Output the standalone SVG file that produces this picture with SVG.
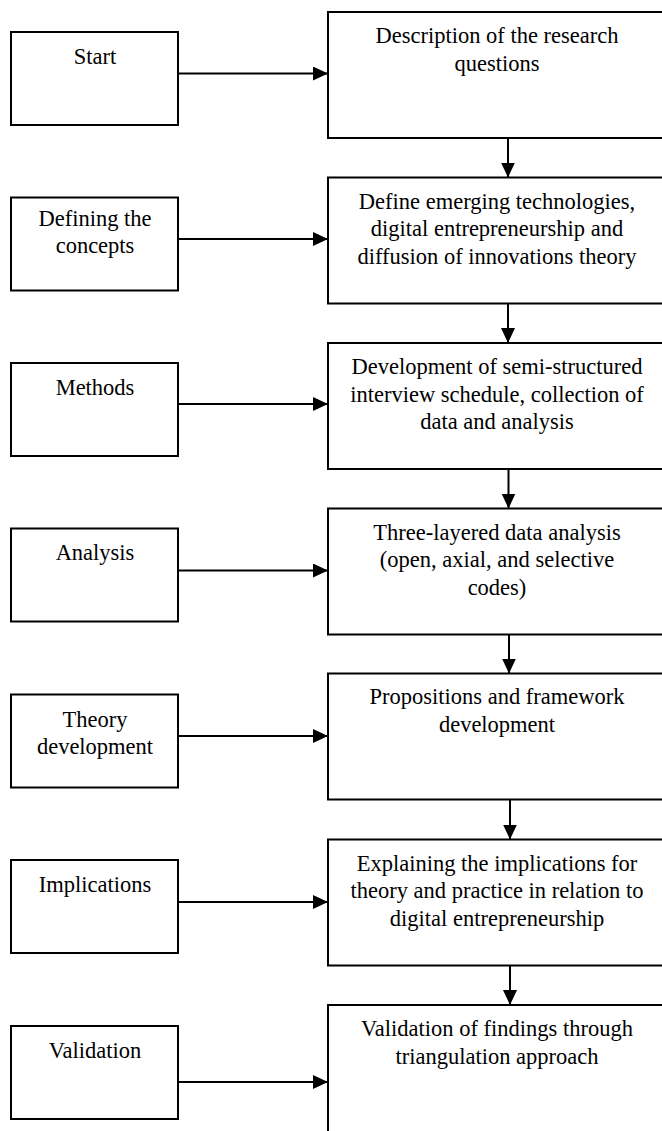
<svg xmlns="http://www.w3.org/2000/svg" width="662" height="1131" viewBox="0 0 662 1131">
<style>
.box{fill:#fff;stroke:#000;stroke-width:2}
.t{font-family:"Liberation Serif","Times New Roman",serif;font-size:22.5px;fill:#000;text-anchor:middle}
.c{stroke:#000;stroke-width:2;fill:none;marker-end:url(#ah)}
</style>
<defs>
<marker id="ah" markerUnits="userSpaceOnUse" markerWidth="15" markerHeight="14" refX="15" refY="7" orient="auto">
<path d="M0,0 L15,7 L0,14 Z" fill="#000"/>
</marker>
</defs>
<rect width="662" height="1131" fill="#fff"/>
<g id="connectors">
<line class="c" x1="178" y1="73.5" x2="328" y2="73.5"/>
<line class="c" x1="178" y1="239" x2="328" y2="239"/>
<line class="c" x1="178" y1="404" x2="328" y2="404"/>
<line class="c" x1="178" y1="570.5" x2="328" y2="570.5"/>
<line class="c" x1="178" y1="736" x2="328" y2="736"/>
<line class="c" x1="178" y1="902" x2="328" y2="902"/>
<line class="c" x1="178" y1="1082" x2="328" y2="1082"/>
<line class="c" x1="508" y1="138" x2="508" y2="177.5"/>
<line class="c" x1="508" y1="303.5" x2="508" y2="343"/>
<line class="c" x1="508.5" y1="469" x2="508.5" y2="508.5"/>
<line class="c" x1="509" y1="634.5" x2="509" y2="673.5"/>
<line class="c" x1="510" y1="799.5" x2="510" y2="839.5"/>
<line class="c" x1="510" y1="965.5" x2="510" y2="1005"/>
</g>
<g id="start"><rect class="box" x="11" y="32" width="167" height="93"/><text class="t" x="95" y="63.5">Start</text></g>
<g id="defining"><rect class="box" x="11" y="197.5" width="167" height="93"/><text class="t" x="95" y="226">Defining the</text><text class="t" x="95" y="252.5">concepts</text></g>
<g id="methods"><rect class="box" x="11" y="363" width="167" height="93"/><text class="t" x="95" y="394.5">Methods</text></g>
<g id="analysis"><rect class="box" x="11" y="528.5" width="167" height="93"/><text class="t" x="95" y="560">Analysis</text></g>
<g id="theory"><rect class="box" x="11" y="694.5" width="167" height="93"/><text class="t" x="95" y="727">Theory</text><text class="t" x="95" y="753.5">development</text></g>
<g id="implications"><rect class="box" x="11" y="860" width="167" height="93"/><text class="t" x="95" y="891.5">Implications</text></g>
<g id="validation"><rect class="box" x="11" y="1026" width="167" height="93"/><text class="t" x="95" y="1058">Validation</text></g>
<g id="r1"><rect class="box" x="328" y="12" width="400" height="126"/><text class="t" x="497" y="43">Description of the research</text><text class="t" x="497" y="70.5">questions</text></g>
<g id="r2"><rect class="box" x="328" y="177.5" width="400" height="126"/><text class="t" x="497" y="208.5">Define emerging technologies,</text><text class="t" x="497" y="236">digital entrepreneurship and</text><text class="t" x="497" y="263.5">diffusion of innovations theory</text></g>
<g id="r3"><rect class="box" x="328" y="343" width="400" height="126"/><text class="t" x="497" y="374">Development of semi-structured</text><text class="t" x="497" y="401.5">interview schedule, collection of</text><text class="t" x="497" y="429">data and analysis</text></g>
<g id="r4"><rect class="box" x="328" y="508.5" width="400" height="126"/><text class="t" x="497" y="539.5">Three-layered data analysis</text><text class="t" x="497" y="567">(open, axial, and selective</text><text class="t" x="497" y="594.5">codes)</text></g>
<g id="r5"><rect class="box" x="328" y="673.5" width="400" height="126"/><text class="t" x="497" y="704">Propositions and framework</text><text class="t" x="497" y="731.5">development</text></g>
<g id="r6"><rect class="box" x="328" y="839.5" width="400" height="126"/><text class="t" x="497" y="870.5">Explaining the implications for</text><text class="t" x="497" y="898">theory and practice in relation to</text><text class="t" x="497" y="925.5">digital entrepreneurship</text></g>
<g id="r7"><rect class="box" x="328" y="1005" width="400" height="200"/><text class="t" x="497" y="1036">Validation of findings through</text><text class="t" x="497" y="1063.5">triangulation approach</text></g>
</svg>
